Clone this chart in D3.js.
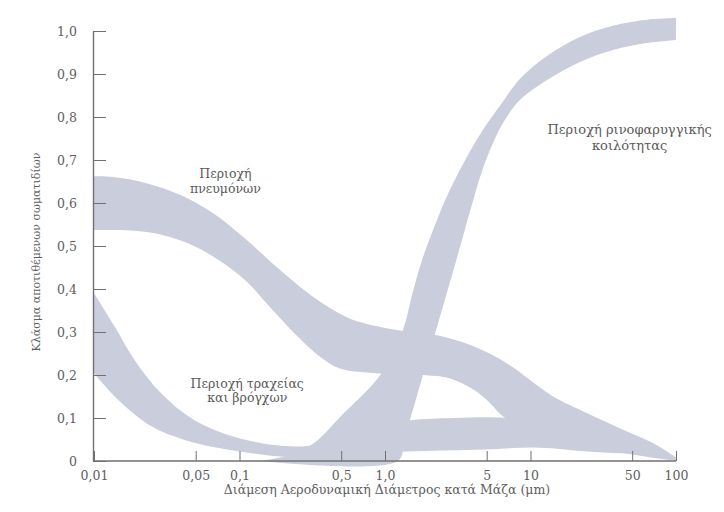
<!DOCTYPE html>
<html>
<head>
<meta charset="utf-8">
<script src="https://cdn.jsdelivr.net/npm/d3@7"></script>
<style>
  html, body { margin: 0; padding: 0; background: #fff; }
  svg { display: block; }
  svg text { font-family: "DejaVu Serif", "Liberation Serif", serif; }
</style>
</head>
<body>
<svg id="chart" width="724" height="512"></svg>
<script>
// Deposition bands: each edge is a list of [diameter (µm), fraction]
const pulmonaryTop = [[0.01,0.662],[0.014,0.660],[0.023,0.646],[0.039,0.619],[0.066,0.576],[0.112,0.514],[0.19,0.444],[0.32,0.382],[0.55,0.334],[0.92,0.312],[1.3,0.303],[2.25,0.293],[4.1,0.266],[6.9,0.227],[11.4,0.173],[14.3,0.150],[24.5,0.111],[41,0.076],[70,0.041],[100,0.008]];
const pulmonaryBottom = [[0.01,0.537],[0.02,0.535],[0.03,0.525],[0.045,0.505],[0.07,0.47],[0.11,0.42],[0.17,0.35],[0.25,0.29],[0.35,0.245],[0.49,0.215],[0.8,0.205],[1.5,0.20],[1.83,0.20],[2.8,0.192],[4.1,0.165],[5.3,0.134],[6.5,0.103],[10,0.07],[20,0.04],[50,0.015],[100,0.0]];

const bronchialTop = [[0.01,0.39],[0.0139,0.312],[0.019,0.235],[0.029,0.157],[0.049,0.095],[0.093,0.056],[0.2,0.035],[0.35,0.038],[0.6,0.06],[1.0,0.085],[1.49,0.095],[3,0.1],[6.7,0.1],[12,0.085],[25,0.05],[50,0.025],[100,0.004]];
const bronchialBottom = [[0.01,0.204],[0.0147,0.142],[0.025,0.08],[0.042,0.049],[0.072,0.03],[0.121,0.018],[0.205,0.01],[0.4,0.012],[1.4,0.022],[4.1,0.026],[11.4,0.031],[24.5,0.022],[70,0.012],[100,0.0]];

const nasalTop = [[0.138,0.0],[0.222,0.014],[0.32,0.04],[0.49,0.102],[0.954,0.205],[1.329,0.305],[1.533,0.386],[1.796,0.467],[2.206,0.549],[2.754,0.626],[3.491,0.695],[4.568,0.763],[6.074,0.823],[8.604,0.891],[12.98,0.942],[21.9,0.986],[36.9,1.012],[63.2,1.026],[100,1.03]];
const nasalBottom = [[0.138,0.0],[1.228,0.0],[1.35,0.047],[1.485,0.095],[1.824,0.2],[2.278,0.312],[2.797,0.416],[3.382,0.514],[4.025,0.605],[4.497,0.66],[5.267,0.723],[6.471,0.786],[8.473,0.84],[12.98,0.886],[21.9,0.928],[36.9,0.956],[63.2,0.972],[100,0.979]];

// Axis ticks and labels
const xTicks = [0.01, 0.05, 0.1, 0.5, 1, 5, 10, 50, 100];
const xTickLabels = ["0,01", "0,05", "0,1", "0,5", "1,0", "5", "10", "50", "100"];
const yTicks = [0, 0.1, 0.2, 0.3, 0.4, 0.5, 0.6, 0.7, 0.8, 0.9, 1.0];
const yTickLabels = ["0", "0,1", "0,2", "0,3", "0,4", "0,5", "0,6", "0,7", "0,8", "0,9", "1,0"];

const xTitle = "Διάμεση Αεροδυναμική Διάμετρος κατά Μάζα (μm)";
const yTitle = "Κλάσμα αποτιθέμενων σωματιδίων";
const regionLabels = [
  { lines: ["Περιοχή", "πνευμόνων"], at: [0.08, 0.658], size: 12.5, lead: 14.5 },
  { lines: ["Περιοχή τραχείας", "και βρόγχων"], at: [0.113, 0.17], size: 12.5, lead: 14.5 },
  { lines: ["Περιοχή ρινοφαρυγγικής", "κοιλότητας"], at: [48, 0.76], size: 13, lead: 15.5 }
];

const svg = d3.select("#chart");
const x = d3.scaleLog().domain([0.01, 100]).range([94, 676]);
const y = d3.scaleLinear().domain([0, 1]).range([461, 31]);

const edge = d3.line().x(d => x(d[0])).y(d => y(d[1])).curve(d3.curveCatmullRom.alpha(0.5));
function bandPath(top, bottom) {
  const upper = edge(top);
  const lower = edge(bottom.slice().reverse());
  return upper + "L" + lower.slice(1) + "Z";
}

const bands = [
  [pulmonaryTop, pulmonaryBottom],
  [bronchialTop, bronchialBottom],
  [nasalTop, nasalBottom]
];
svg.append("g").selectAll("path").data(bands).join("path")
  .attr("d", d => bandPath(d[0], d[1]))
  .attr("fill", "#c9cddc")
  .attr("stroke", "none");

// Axes
const axisColor = "#707070";
const textColor = "#5e5e5e";
const yAxis = d3.axisLeft(y).tickValues(yTicks)
  .tickFormat((d, i) => yTickLabels[i]).tickSizeInner(-13).tickSizeOuter(0).tickPadding(16);
const gy = svg.append("g").attr("transform", "translate(93,0)").call(yAxis);

const xAxis = d3.axisBottom(x).tickValues(xTicks)
  .tickFormat((d, i) => xTickLabels[i]).tickSizeInner(-10).tickSizeOuter(0).tickPadding(10);
const gx = svg.append("g").attr("transform", "translate(0,461)").call(xAxis);

[gx, gy].forEach(g => {
  g.attr("font-family", null).attr("font-size", null);
  g.select(".domain").attr("stroke", axisColor).attr("stroke-width", 1.4);
  g.selectAll(".tick line").attr("stroke", axisColor).attr("stroke-width", 1);
  g.selectAll(".tick text").attr("fill", textColor).style("font-size", "12.5px");
});
gx.select(".domain").attr("d", `M${x(0.01) - 1},0H${x(100)}`);

// Axis titles
svg.append("text")
  .attr("x", 387).attr("y", 494)
  .attr("text-anchor", "middle")
  .attr("fill", textColor).style("font-size", "12.5px")
  .text(xTitle);

svg.append("text")
  .attr("transform", "translate(40,252) rotate(-90)")
  .attr("text-anchor", "middle")
  .attr("fill", textColor).style("font-size", "11px")
  .text(yTitle);

// Region labels
regionLabels.forEach(r => {
  const t = svg.append("text")
    .attr("text-anchor", "middle")
    .attr("fill", "#5a5a5a").style("font-size", r.size + "px");
  r.lines.forEach((ln, i) => {
    t.append("tspan").attr("x", x(r.at[0])).attr("y", y(r.at[1]) + i * r.lead).text(ln);
  });
});
</script>
</body>
</html>
